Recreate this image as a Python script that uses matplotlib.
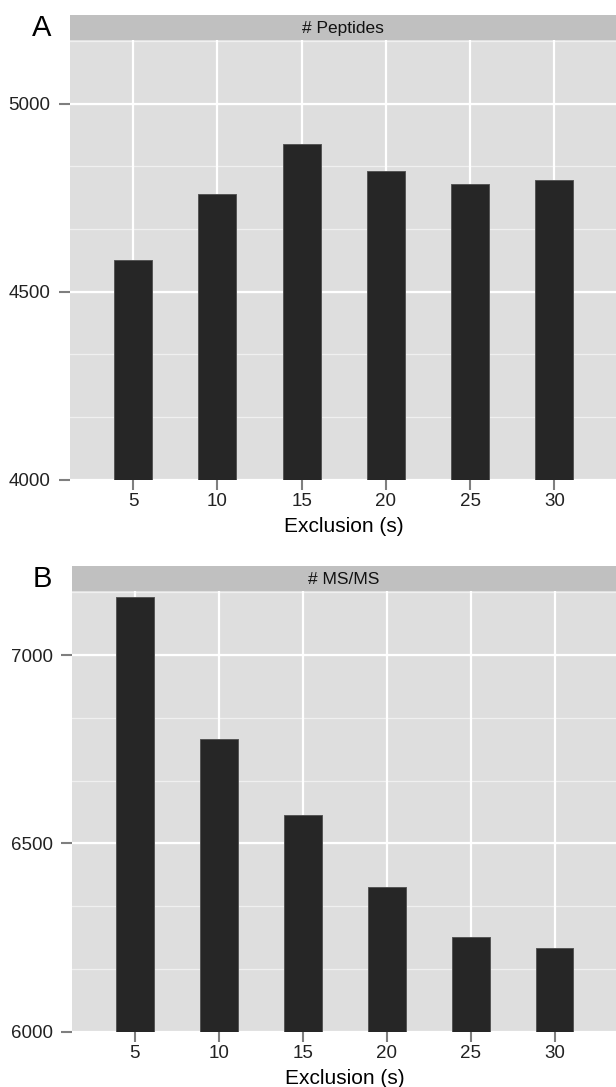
import matplotlib
matplotlib.use("Agg")
import matplotlib.pyplot as plt

# Données
exclusion = [5, 10, 15, 20, 25, 30]
peptides = [4585, 4761, 4892, 4822, 4787, 4798]
msms = [7153, 6776, 6576, 6383, 6250, 6223]

W, H = 616, 1087
plt.rcParams['font.family'] = ['Liberation Sans', 'DejaVu Sans']

fig = plt.figure(figsize=(W / 100, H / 100), dpi=100)
fig.patch.set_facecolor('white')


def panel(left, top, bottom, strip_top, valores, ylim, yticks, titulo, letra):
    ax = fig.add_axes([left / W, 1 - bottom / H, (617.5 - left) / W, (bottom - top) / H])
    ax.set_facecolor('#dedede')
    ax.set_xlim(1.25, 33.75)
    ax.set_ylim(*ylim)
    # rejilla menor (tercios) y mayor
    paso = (yticks[1] - yticks[0]) / 3
    menores = []
    v = ylim[0]
    while v < ylim[1]:
        if v not in yticks:
            menores.append(v)
        v += paso
    for m in menores:
        ax.axhline(m, color='#f0f0f0', lw=0.9, zorder=0)
    for t in yticks:
        ax.axhline(t, color='white', lw=1.6, zorder=0)
    for x in exclusion:
        ax.axvline(x, color='white', lw=1.6, zorder=0)
    ax.bar(exclusion, [val - ylim[0] for val in valores], bottom=ylim[0], width=2.25,
           color='#262626', edgecolor='#555555', linewidth=0.7, zorder=2)
    ax.set_xticks(exclusion)
    ax.set_yticks(yticks)
    ax.tick_params(axis='both', length=7, width=1.5, color='#7f7f7f',
                   labelsize=13.5, labelcolor='#222222', pad=3)
    ax.tick_params(axis='y', length=8, pad=6)
    for s in ax.spines.values():
        s.set_visible(False)
    ax.set_xlabel('Exclusion (s)', fontsize=15, color='black', labelpad=5)
    # franja del título
    sa = fig.add_axes([left / W, 1 - top / H, (617.5 - left) / W, (top - strip_top) / H])
    sa.set_facecolor('#c0c0c0')
    sa.set_xticks([])
    sa.set_yticks([])
    for s in sa.spines.values():
        s.set_visible(False)
    sa.text(0.5 * (616 - left) / (617.5 - left), 0.45, titulo, ha='center', va='center',
            fontsize=12.5, color='#111111', transform=sa.transAxes)
    fig.text(42 / W, 1 - (strip_top + 13) / H, letra, ha='center', va='center',
             fontsize=21, color='black')
    return ax


panel(70, 40, 479.5, 15, peptides, (4000, 5170), [4000, 4500, 5000], '# Peptides', 'A')
panel(72, 591, 1031.5, 566, msms, (6000, 7170), [6000, 6500, 7000], '# MS/MS', 'B')

fig.savefig('out.png', dpi=100)
